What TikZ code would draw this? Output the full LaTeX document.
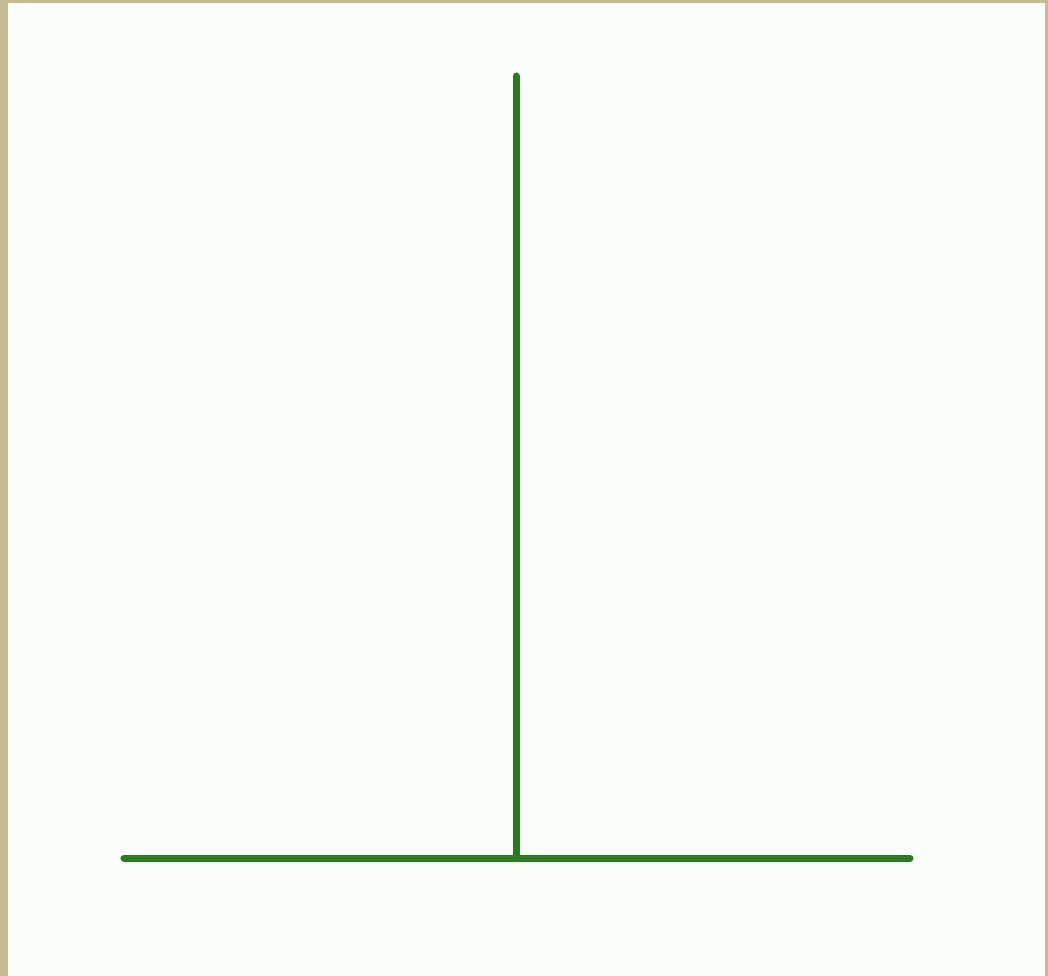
\documentclass[tikz,border=0pt]{standalone}
\usetikzlibrary{positioning}
\definecolor{marco}{HTML}{C5BA92}
\definecolor{fondo}{HTML}{FBFDFB}
\definecolor{verde}{HTML}{2A7A22}

\begin{document}
\begin{tikzpicture}[x=0.01cm, y=-0.01cm, trazo/.style={verde,line width=0.07cm,line cap=round}]
        % marco y fondo
        \fill[marco] (0,0) rectangle (1048,976);
        \fill[fondo] (8,3) rectangle (1045,976);
        \useasboundingbox (0,0) rectangle (1048,976);
        % puntos de la figura
        \coordinate (cima) at (516,76);
        \coordinate (pie) at (516,858);
        \coordinate (izq) at (124,858);
        \coordinate (der) at (910,858);
        \draw[trazo] (izq) -- (der);
        \draw[trazo] (cima) -- (pie);
      \end{tikzpicture}
\end{document}
